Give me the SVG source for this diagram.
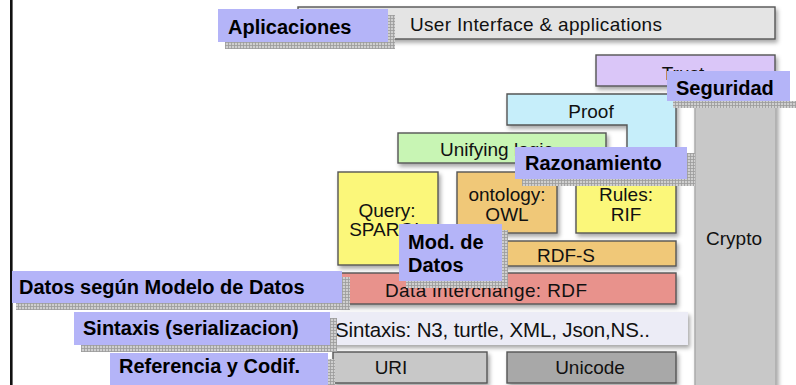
<svg xmlns="http://www.w3.org/2000/svg" width="796" height="385" viewBox="0 0 796 385">
<defs>
<filter id="sh" x="-10%" y="-20%" width="130%" height="160%">
<feDropShadow dx="2" dy="3" stdDeviation="2" flood-color="#000" flood-opacity="0.35"/>
</filter>
<pattern id="grid" width="3" height="3" patternUnits="userSpaceOnUse">
<rect width="3" height="3" fill="#cfcfcf"/>
<path d="M0,0.5H3M0.5,0V3" stroke="#9a9a9a" stroke-width="0.8"/>
</pattern>
<style>
.box{stroke:#555;stroke-width:1.4;filter:url(#sh)}
.t{font-family:"Liberation Sans",Arial,sans-serif;font-size:19px;fill:#111;text-anchor:middle}
.ts{text-anchor:start}
.lb{fill:#b4b4f8}
.lt{font-family:"Liberation Sans",Arial,sans-serif;font-size:20px;font-weight:bold;fill:#000}
.gr{fill:url(#grid)}
</style>
</defs>
<rect x="0" y="0" width="796" height="385" fill="#fff"/>
<rect x="10" y="0" width="2.6" height="385" fill="#111"/>

<g id="ui"><rect class="box" x="298" y="7" width="477" height="32" fill="#e4e4e4"/><text class="t ts" x="410" y="31" textLength="252">User Interface &amp; applications</text></g>
<g id="trust"><rect class="box" x="596" y="55" width="179" height="31" fill="#dac6f8"/><text class="t" x="683" y="80">Trust</text></g>
<g id="crypto"><rect x="695" y="100" width="81" height="290" fill="#c8c8c8" stroke="#a8a8a8" stroke-width="1.4" filter="url(#sh)"/><text class="t" x="734" y="245">Crypto</text></g>
<g id="proof"><path class="box" d="M507,94H676V155H627V125H507Z" fill="#c6eefa"/><text class="t" x="591" y="118">Proof</text></g>
<g id="logic"><rect class="box" x="398" y="133" width="208" height="30" fill="#c8f5b4"/><text class="t ts" x="440" y="156">Unifying logic</text></g>
<g id="query"><rect class="box" x="338" y="172" width="100" height="93" fill="#fbf77a"/><text class="t" x="387" y="217">Query:</text><text class="t" x="387" y="236">SPARQL</text></g>
<g id="owl"><rect class="box" x="457" y="172" width="100" height="61" fill="#f0c878"/><text class="t" x="507" y="201">ontology:</text><text class="t" x="507" y="221">OWL</text></g>
<g id="rif"><rect class="box" x="576" y="172" width="100" height="61" fill="#fbf77a"/><text class="t" x="626" y="201">Rules:</text><text class="t" x="626" y="221">RIF</text></g>
<g id="rdfs"><rect class="box" x="457" y="241" width="219" height="25" fill="#f0c878"/><text class="t" x="566" y="262">RDF-S</text></g>
<g id="rdf"><rect class="box" x="338" y="273" width="338" height="31" fill="#e8928c"/><text class="t ts" x="385" y="297" textLength="202">Data interchange: RDF</text></g>
<g id="sintaxis"><rect x="330" y="312" width="358" height="33" fill="#ececf6" filter="url(#sh)"/><text class="t ts" x="335" y="337" style="font-size:20.5px" textLength="315">Sintaxis: N3, turtle, XML, Json,NS..</text></g>
<g id="uri"><rect class="box" x="333" y="352" width="154" height="31" fill="#c8c8c8" stroke="#999"/><text class="t" x="391" y="374">URI</text></g>
<g id="unicode"><rect class="box" x="507" y="352" width="169" height="31" fill="#a8a8a8"/><text class="t" x="590" y="374">Unicode</text></g>

<g id="lbl-aplicaciones"><path class="gr" d="M388,15H395V49H225V42H388Z"/><rect class="lb" x="218" y="9" width="170" height="33"/><text class="lt" x="228" y="34">Aplicaciones</text></g>
<g id="lbl-seguridad"><path class="gr" d="M673,101H796V108H673Z"/><rect class="lb" x="667" y="71" width="123" height="30"/><text class="lt" x="676" y="95">Seguridad</text></g>
<g id="lbl-razonamiento"><path class="gr" d="M687,153H695V186H522V179H687Z"/><rect class="lb" x="515" y="147" width="172" height="32"/><text class="lt" x="525" y="170">Razonamiento</text></g>
<g id="lbl-modelo"><path class="gr" d="M502,230H508V288H406V281H502Z"/><rect class="lb" x="399" y="224" width="103" height="57"/><text class="lt" x="408" y="249">Mod. de</text><text class="lt" x="408" y="272">Datos</text></g>
<g id="lbl-datos"><path class="gr" d="M342,277H350V310H16V303H342Z"/><rect class="lb" x="12" y="271" width="330" height="32"/><text class="lt" x="19" y="294">Datos según Modelo de Datos</text></g>
<g id="lbl-sintaxis"><path class="gr" d="M330,318H337V352H81V345H330Z"/><rect class="lb" x="74" y="312" width="256" height="33"/><text class="lt" x="83" y="335">Sintaxis (serializacion)</text></g>
<g id="lbl-referencia"><path class="gr" d="M328,359H335V385H328Z"/><rect class="lb" x="110" y="353" width="218" height="32"/><text class="lt" x="119" y="373">Referencia y Codif.</text></g>
</svg>
